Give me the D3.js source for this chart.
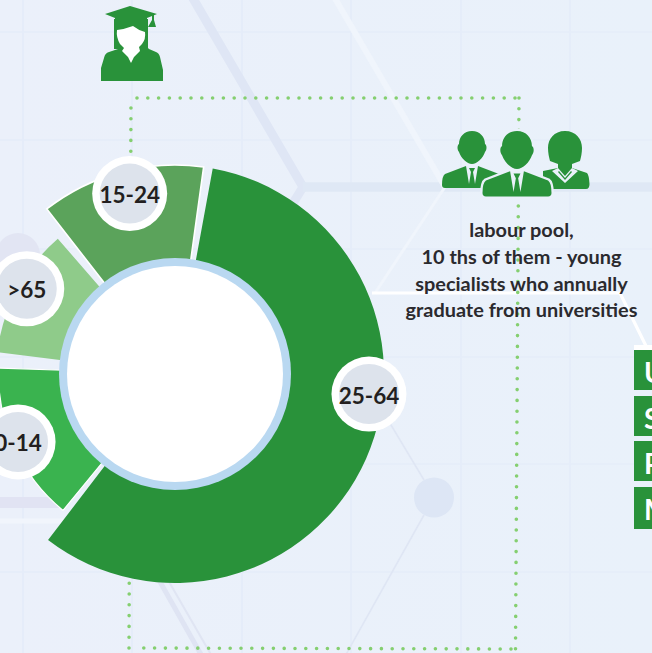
<!DOCTYPE html>
<html><head><meta charset="utf-8">
<script src="https://cdn.jsdelivr.net/npm/d3@7"></script>
<style>html,body{margin:0;padding:0;overflow:hidden;background:#eaf1fa}svg{display:block}text{font-family:Lato,"Open Sans",sans-serif;font-weight:700}</style>
</head><body><svg id="c" width="652" height="653"></svg>
<script>
// Data
const categories = ["25-64", "0-14", ">65", "15-24"];
const sharePercent = [57.5, 14.6, 11.7, 12.7];
const gapAfterPercent = [0.55, 1.4, 0.85, 0.7];
const caption = ["labour pool,", "10 ths of them - young", "specialists who annually", "graduate from universities"];
const sideLetters = ["U", "S", "P", "M"];

// Styling and layout (kept apart from the values)
const sliceColors = ["#29923a", "#3ab34f", "#8fcb8a", "#5ba35b"];
const sliceOuter = [209, 176.5, 179, 209];
const sliceStroke = [0, 1.2, 0, 1.6];
const labelDeg = [95.9, 246.6, 299.9, 345.9];
const labelRad = [195, 171, 171, 186];
const startDeg = 10.4;
const cx = 175, cy = 374;
const GREEN = "#29923a", DOT = "#85cf70";

const svg = d3.select("#c");
const defs = svg.append("defs");
const bgGrad = defs.append("linearGradient").attr("id","bg").attr("x1",0).attr("y1",0).attr("x2",1).attr("y2",0);
bgGrad.append("stop").attr("offset",0).attr("stop-color","#ebf0fa");
bgGrad.append("stop").attr("offset",1).attr("stop-color","#e9f1fa");
svg.append("rect").attr("width",652).attr("height",653).attr("fill","url(#bg)");

// background grid
const bg = svg.append("g");
const gridX = [23,132,242,351,461,570], gridY = [32,140,249,357,464,572];
bg.selectAll(".gx").data(gridX).join("line").attr("x1",d=>d).attr("x2",d=>d).attr("y1",0).attr("y2",653)
  .attr("stroke","#e3ebf9").attr("stroke-width",1.5);
bg.selectAll(".gy").data(gridY).join("line").attr("y1",d=>d).attr("y2",d=>d).attr("x1",0).attr("x2",652)
  .attr("stroke","#e4ecf9").attr("stroke-width",1.3);

// background network
const seg = (pts,color,w,op=1)=>bg.append("path").attr("d",d3.line()(pts)).attr("fill","none")
  .attr("stroke",color).attr("stroke-width",w).attr("stroke-opacity",op).attr("stroke-linejoin","miter");
seg([[191,-5],[303,187],[290,208]],"#dfe6f5",9);
seg([[303,187],[652,187]],"#dfe8f5",9.5);
seg([[333,-5],[445,187]],"#f0f5fc",6);
seg([[445,187],[375,293]],"#f0f5fc",3);
seg([[372,293],[620,293],[646,346]],"#ffffff",3.2);
seg([[159,580],[203,658]],"#dfe4f3",5);
seg([[168,580],[213,658]],"#e0e5f3",2);
seg([[388,420],[424,480]],"#dfe6f4",1.6);
seg([[424,515],[344,658]],"#dfe6f4",1.6);
seg([[0,502.5],[62,502.5]],"#e1e3f3",11);
seg([[0,521],[85,521]],"#f1f5fc",5);
bg.append("circle").attr("cx",434).attr("cy",497.5).attr("r",20).attr("fill","#dde6f5");
bg.append("circle").attr("cx",18).attr("cy",255).attr("r",22).attr("fill","#e2e5f3");

// dotted frame
[[[137,98],[519,98]],[[519,98],[515.5,649]],[[511,649],[135,648]],[[129,648],[131,99]]].forEach(p=>{
  svg.append("path").attr("d",d3.line()(p)).attr("fill","none").attr("stroke",DOT)
    .attr("stroke-width",3.6).attr("stroke-linecap","round").attr("stroke-dasharray","0 10.8");
});

// donut
const angle = d3.scaleLinear().domain([0,100]).range([0,2*Math.PI]);
let cursor = startDeg/360*100;
const slices = categories.map((name,i)=>{
  const s = cursor, e = s + sharePercent[i];
  cursor = e + gapAfterPercent[i];
  return {name,startAngle:angle(s),endAngle:angle(e),i};
});
const arc = d3.arc().innerRadius(112);
const donut = svg.append("g").attr("transform",`translate(${cx},${cy})`);
donut.selectAll("path").data(slices).join("path")
  .attr("d",d=>arc.outerRadius(sliceOuter[d.i])(d))
  .attr("fill",d=>sliceColors[d.i])
  .attr("stroke","#fff").attr("stroke-width",d=>sliceStroke[d.i]);
donut.append("circle").attr("r",116).attr("fill","#b9d8f1");
donut.append("circle").attr("r",108).attr("fill","#fff");

const badge = donut.selectAll(".b").data(slices).join("g").attr("transform",d=>{
  const a = labelDeg[d.i]*Math.PI/180;
  return `translate(${labelRad[d.i]*Math.sin(a)},${-labelRad[d.i]*Math.cos(a)})`;
});
badge.append("circle").attr("r",37.5).attr("fill","#fff");
badge.append("circle").attr("r",30).attr("fill","#dde3ec");
badge.append("text").attr("text-anchor","middle").attr("y",9.5).attr("font-size",22.5).attr("font-weight",900)
  .attr("fill","#231f20").text(d=>d.name);

// caption
svg.append("g").selectAll("text").data(caption).join("text")
  .attr("x",521.5).attr("y",(d,i)=>237+i*26.8).attr("text-anchor","middle")
  .attr("font-size",19.9).attr("fill","#2b2a2e").text(d=>d);

// side boxes
const boxY = [350,396,441,487], boxH = [40,40,40,42];
svg.append("rect").attr("x",634).attr("y",345).attr("width",18).attr("height",6).attr("fill","#fff");
const box = svg.append("g").selectAll("g").data(sideLetters).join("g");
box.append("rect").attr("x",634).attr("y",(d,i)=>boxY[i]).attr("width",18).attr("height",(d,i)=>boxH[i]).attr("fill",GREEN);
box.append("text").attr("x",644).attr("y",(d,i)=>boxY[i]+33).attr("font-size",28).attr("fill","#fff").text(d=>d);

// graduate icon
const grad = svg.append("g").attr("fill",GREEN);
grad.append("path").attr("d","M105,14 L130,6 L157,14 L147,18 L147,24 Q131,20 115,24 L115,18 Z");
grad.append("path").attr("d","M152,15 h2 v5 L156,27 L148,27 L152,20 Z");
grad.append("path").attr("d","M114,19 L148,19 L148,48 L149,49 L156,52 Q159,53 160,57 L163,70 L163,81 L101,81 L101,68 L104,58 Q105,53 109,52 L118,49 L114,49 Z");
grad.append("path").attr("fill","#fff").attr("d","M117,30 Q125,29 133,26 Q138,30 145,32 Q146,39 142,44 L139,47 L140,51 L134,57 L131,63 L128,57 L122,51 L124,48 L120,44 Q116,37 117,30 Z");

// team icon
const team = svg.append("g").attr("fill",GREEN);
function man(x,top,s,halo){
  const g = team.append("g").attr("transform",`translate(${x},${top}) scale(${s})`);
  const d = "M0,0 C8,0 13,6 13,13 C15,14 15,19 13,21 C11,27 5,33 0,33 C-5,33 -11,27 -13,21 C-15,19 -15,14 -13,13 C-13,6 -8,0 0,0 Z M-6,35 L-27,43 Q-30,45 -30,54 Q-30,57 -27,57 L27,57 Q30,57 30,54 Q30,45 27,43 L6,35 L3,53 L1,41 L3,37 L-3,37 L-1,41 L-3,53 Z";
  if(halo) g.append("path").attr("d",d).attr("fill","none").attr("stroke","#eaf1fa").attr("stroke-width",4);
  g.append("path").attr("d",d);
}
man(472,131,1,false);
team.append("path").attr("d","M565,131 C576,131 582,139 582,148 C582,153 581,157 580,161 L572,164 L572,168 L587,173 Q589,175 589.5,184 Q589.5,189 586,189 L543,189 L543,171 L558,168 L558,164 L550,161 C549,157 548,153 548,148 C548,139 554,131 565,131 Z");
team.append("path").attr("fill","#eaf1fa").attr("d","M552,171 L558,168 L565,176 L572,168 L578,171 L565,183 Z");
team.append("path").attr("d","M559,171 L565,178 L571,171 L572,172 L565,180 L558,172 Z");
man(517,131,1.15,true);
</script></body></html>
